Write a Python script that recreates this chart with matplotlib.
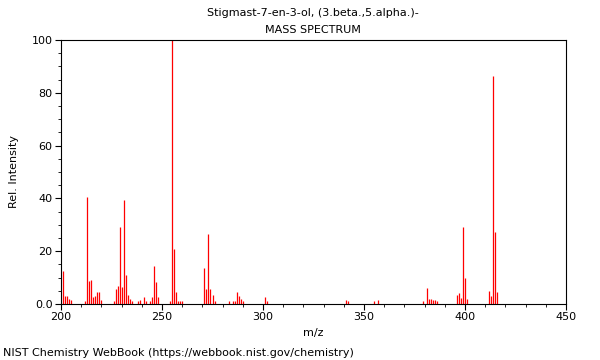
import matplotlib
matplotlib.use("Agg")
import matplotlib.pyplot as plt
from matplotlib.ticker import MultipleLocator, FixedLocator

# Peaks (m/z, relative intensity)
mz = [201, 202, 203, 204, 205,
      212, 213, 214, 215, 216, 217, 218, 219, 220,
      226, 227, 228, 229, 230, 231, 232, 233, 234, 235,
      238, 239, 241, 242, 244, 245, 246, 247, 248,
      254, 255, 256, 257, 258, 259, 260,
      271, 272, 273, 274, 275, 276,
      283, 285, 286, 287, 288, 289, 290,
      301, 302,
      341, 342, 355, 357,
      379, 381, 382, 383, 384, 385, 386,
      396, 397, 398, 399, 400, 401,
      412, 413, 414, 415, 416]
intensity = [12.5, 3.0, 3.0, 1.8, 1.5,
             1.0, 40.4, 8.8, 9.0, 2.5, 3.2, 4.5, 4.5, 1.5,
             1.0, 5.8, 7.0, 29.3, 6.5, 39.4, 10.9, 3.3, 1.9, 1.0,
             1.2, 1.6, 2.6, 1.0, 1.0, 2.8, 14.3, 8.5, 2.5,
             1.2, 100.0, 21.0, 4.7, 1.0, 1.0, 1.0,
             13.6, 5.5, 26.4, 5.5, 3.5, 1.2,
             1.0, 1.0, 1.0, 4.5, 3.2, 2.0, 1.2,
             2.6, 1.2,
             1.5, 1.1, 1.1, 1.5,
             1.1, 5.9, 1.8, 1.8, 1.5, 1.5, 1.1,
             3.4, 4.3, 2.3, 29.0, 9.7, 1.9,
             5.1, 2.9, 86.4, 27.3, 4.6]

y_ticks = [0, 20, 40, 60, 80, 100]
y_tick_labels = ["0.0", "20", "40", "60", "80", "100"]
x_ticks = [200, 250, 300, 350, 400, 450]

fig = plt.figure(figsize=(6, 3.6), dpi=100)
ax = fig.add_axes([61 / 600, 1 - 304 / 360, 505 / 600, 264 / 360])

ax.vlines(mz, 0, intensity, colors="#ff0000", linewidth=0.9)

ax.set_xlim(200, 450)
ax.set_ylim(0, 100)
ax.xaxis.set_major_locator(FixedLocator(x_ticks))
ax.xaxis.set_minor_locator(MultipleLocator(10))
ax.yaxis.set_major_locator(FixedLocator(y_ticks))
ax.yaxis.set_minor_locator(MultipleLocator(5))
ax.set_yticklabels(y_tick_labels)
ax.tick_params(which="major", length=4, width=0.8, labelsize=8, pad=2)
ax.tick_params(which="minor", length=2, width=0.6)

ax.set_xlabel("m/z", fontsize=8, labelpad=4)
ax.set_ylabel("Rel. Intensity", fontsize=8, labelpad=9)

fig.text(313 / 600, 1 - 13 / 360, "Stigmast-7-en-3-ol, (3.beta.,5.alpha.)-",
         ha="center", va="center", fontsize=8)
fig.text(313 / 600, 1 - 30 / 360, "MASS SPECTRUM",
         ha="center", va="center", fontsize=8)
fig.text(3 / 600, 1 - 353 / 360, "NIST Chemistry WebBook (https://webbook.nist.gov/chemistry)",
         ha="left", va="center", fontsize=8)

fig.savefig("out.png", dpi=100)
